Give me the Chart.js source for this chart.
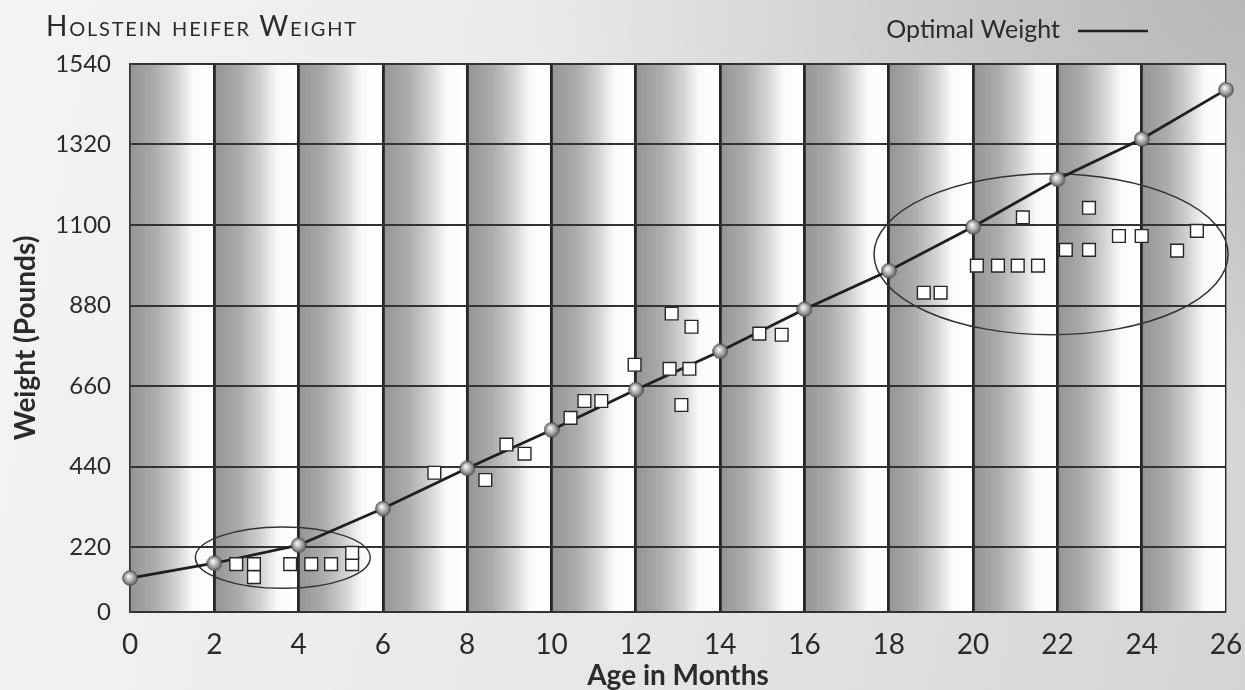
<!DOCTYPE html>
<html>
<head>
<meta charset="utf-8">
<title>Holstein heifer Weight</title>
<script src="https://cdn.jsdelivr.net/npm/chart.js@4.4.1/dist/chart.umd.min.js"></script>
<style>
  html, body { margin: 0; padding: 0; }
  body {
    width: 1245px;
    height: 690px;
    overflow: hidden;
    font-family: Lato, "Open Sans", sans-serif;
    background:
      radial-gradient(ellipse 720px 420px at 100% 0%, rgba(150, 150, 150, 0.5), rgba(150, 150, 150, 0) 100%),
      linear-gradient(100deg, #f4f4f4 0%, #e6e6e6 55%, #d4d4d4 100%);
  }
  #wrap { position: relative; width: 1245px; height: 690px; }
  #title {
    position: absolute;
    left: 46px;
    top: 11px;
    font-size: 28px;
    line-height: 1;
    letter-spacing: 1.8px;
    font-variant: small-caps;
    color: #2b2b2b;
  }
</style>
</head>
<body>
<div id="wrap">
  <div id="title">Holstein heifer Weight</div>
  <canvas id="grafico"></canvas>
</div>
<script>
const AGE_TICKS = [0, 2, 4, 6, 8, 10, 12, 14, 16, 18, 20, 22, 24, 26];
const WEIGHT_TICKS = [0, 220, 440, 660, 880, 1100, 1320, 1540];

// optimal growth curve (pounds at each month)
const OPTIMAL_MONTHS = [0, 2, 4, 6, 8, 10, 12, 14, 16, 18, 20, 22, 24, 26];
const OPTIMAL_WEIGHT = [115, 165, 225, 325, 435, 540, 650, 755, 870, 975, 1095, 1225, 1335, 1470];

// weighed heifers
const HEIFER_MONTHS = [
  2.52, 2.94, 2.94, 3.80, 4.30, 4.77, 5.27, 5.27,
  7.22, 8.43, 8.93, 9.36, 10.45, 10.78, 11.18, 11.97, 12.80, 12.85, 13.08, 13.27, 13.32, 14.93, 15.46,
  18.83, 19.23, 20.09, 20.59, 21.06, 21.18, 21.54, 22.20, 22.75, 22.75, 23.46, 24.00, 24.84, 25.31
];
const HEIFER_WEIGHT = [
  162, 162, 118, 162, 162, 162, 162, 200,
  423, 403, 500, 475, 573, 619, 619, 718, 707, 858, 608, 707, 822, 803, 800,
  915, 915, 989, 989, 989, 1121, 989, 1032, 1032, 1147, 1070, 1070, 1030, 1084
];

// circled groups: [from, to] in months and pounds
const CIRCLED_MONTHS = [[1.55, 5.7], [17.65, 26.05]];
const CIRCLED_WEIGHT = [[80, 275], [800, 1240]];

// the printed chart squeezes the 0-220 band, the others are even
const FIRST_BAND_SHARE = 65 / 548;

class WeightScale extends Chart.LinearScale {
  static id = 'weight';
  static defaults = {};

  getPixelForValue(v) {
    const first = WEIGHT_TICKS[1];
    const d = v <= first
      ? v / first * FIRST_BAND_SHARE
      : FIRST_BAND_SHARE + (v - first) / (this.max - first) * (1 - FIRST_BAND_SHARE);
    return this.getPixelForDecimal(d);
  }

  getValueForPixel(p) {
    const first = WEIGHT_TICKS[1];
    const d = this.getDecimalForPixel(p);
    if (d <= FIRST_BAND_SHARE) return d / FIRST_BAND_SHARE * first;
    return first + (d - FIRST_BAND_SHARE) / (1 - FIRST_BAND_SHARE) * (this.max - first);
  }
}
Chart.register(WeightScale);

const sphere = document.createElement('canvas');
sphere.width = sphere.height = 16;
{
  const c = sphere.getContext('2d');
  const g = c.createRadialGradient(6.5, 6, 0.5, 8, 8, 8);
  g.addColorStop(0, '#f6f6f6');
  g.addColorStop(0.35, '#c4c4c4');
  g.addColorStop(0.8, '#7a7a7a');
  g.addColorStop(1, '#505050');
  c.fillStyle = g;
  c.beginPath();
  c.arc(8, 8, 7.3, 0, Math.PI * 2);
  c.fill();
  c.strokeStyle = '#4a4a4a';
  c.lineWidth = 0.9;
  c.stroke();
}

const bands = {
  id: 'bands',
  beforeDraw(chart) {
    const { ctx, chartArea: a, scales: { x } } = chart;
    ctx.save();
    for (let i = 0; i < AGE_TICKS.length - 1; i++) {
      const l = x.getPixelForValue(AGE_TICKS[i]);
      const r = x.getPixelForValue(AGE_TICKS[i + 1]);
      const g = ctx.createLinearGradient(l, 0, r, 0);
      g.addColorStop(0, '#949494');
      g.addColorStop(0.3, '#acacac');
      g.addColorStop(0.55, '#d2d2d2');
      g.addColorStop(0.75, '#fafafa');
      g.addColorStop(1, '#ffffff');
      ctx.fillStyle = g;
      ctx.fillRect(l, a.top, r - l, a.bottom - a.top);
    }
    ctx.restore();
  }
};

const rings = {
  id: 'rings',
  beforeDatasetsDraw(chart) {
    const { ctx, scales: { x, y } } = chart;
    ctx.save();
    ctx.strokeStyle = '#333';
    ctx.lineWidth = 1.5;
    CIRCLED_MONTHS.forEach((m, i) => {
      const l = x.getPixelForValue(m[0]);
      const r = x.getPixelForValue(m[1]);
      const t = y.getPixelForValue(CIRCLED_WEIGHT[i][1]);
      const b = y.getPixelForValue(CIRCLED_WEIGHT[i][0]);
      ctx.beginPath();
      ctx.ellipse((l + r) / 2, (t + b) / 2, (r - l) / 2, (b - t) / 2, 0, 0, Math.PI * 2);
      ctx.stroke();
    });
    ctx.restore();
  }
};

// legend: label first, then a sample of the line
const keyLine = {
  id: 'keyLine',
  afterDraw(chart) {
    const { ctx } = chart;
    const ds = chart.data.datasets[0];
    ctx.save();
    ctx.font = '25px Lato';
    ctx.fillStyle = '#2b2b2b';
    ctx.textAlign = 'right';
    ctx.textBaseline = 'middle';
    ctx.fillText(ds.label, 1060, 30);
    ctx.strokeStyle = ds.borderColor;
    ctx.lineWidth = 2.5;
    ctx.beginPath();
    ctx.moveTo(1078, 31);
    ctx.lineTo(1148, 31);
    ctx.stroke();
    ctx.restore();
  }
};

const ctx = document.getElementById('grafico').getContext('2d');

new Chart(ctx, {
  type: 'line',
  data: {
    datasets: [
      {
        label: 'Optimal Weight',
        data: OPTIMAL_MONTHS.map((m, i) => ({ x: m, y: OPTIMAL_WEIGHT[i] })),
        borderColor: '#1f1f1f',
        borderWidth: 2.8,
        tension: 0,
        pointStyle: sphere,
        pointRadius: 8,
        clip: false,
        order: 2
      },
      {
        label: 'Heifers',
        type: 'scatter',
        data: HEIFER_MONTHS.map((m, i) => ({ x: m, y: HEIFER_WEIGHT[i] })),
        pointStyle: 'rect',
        pointRadius: 9,
        backgroundColor: '#ffffff',
        borderColor: '#262626',
        borderWidth: 1.4,
        clip: false,
        order: 1
      }
    ]
  },
  options: {
    responsive: true,
    maintainAspectRatio: false,
    animation: false,
    layout: { padding: { top: 64, right: 0, bottom: 0, left: 0 } },
    plugins: {
      legend: { display: false },
      tooltip: { enabled: false }
    },
    scales: {
      x: {
        type: 'linear',
        min: 0,
        max: 26,
        afterBuildTicks: s => { s.ticks = AGE_TICKS.map(v => ({ value: v })); },
        afterFit: s => {
          s.height = 78;
          s.paddingLeft = 0;
          s.paddingRight = 19;
        },
        grid: {
          color: '#262626',
          lineWidth: c => (c.tick && (c.tick.value === 0 || c.tick.value === 26)) ? 1.4 : 2.8,
          drawTicks: false
        },
        border: { color: '#333', width: 1.5 },
        ticks: {
          color: '#2b2b2b',
          font: { family: 'Lato', size: 28 },
          padding: 16,
          maxRotation: 0,
          autoSkip: false,
          callback: v => String(v)
        },
        title: {
          display: true,
          text: 'Age in Months',
          color: '#2b2b2b',
          font: { family: 'Lato', size: 28, weight: 'bold', lineHeight: 1 },
          padding: 0
        }
      },
      y: {
        type: 'weight',
        min: 0,
        max: 1540,
        afterBuildTicks: s => { s.ticks = WEIGHT_TICKS.map(v => ({ value: v })); },
        afterFit: s => { s.width = 130; },
        grid: { color: '#333', lineWidth: 2, drawTicks: false },
        border: { color: '#333', width: 1.4 },
        ticks: {
          color: '#2b2b2b',
          font: { family: 'Lato', size: 24 },
          padding: 19,
          autoSkip: false,
          callback: v => String(v)
        },
        title: {
          display: true,
          text: 'Weight (Pounds)',
          color: '#2b2b2b',
          font: { family: 'Lato', size: 28, weight: 'bold', lineHeight: 1 },
          padding: { top: 12, bottom: 0 }
        }
      }
    }
  },
  plugins: [bands, rings, keyLine]
});
</script>
</body>
</html>
